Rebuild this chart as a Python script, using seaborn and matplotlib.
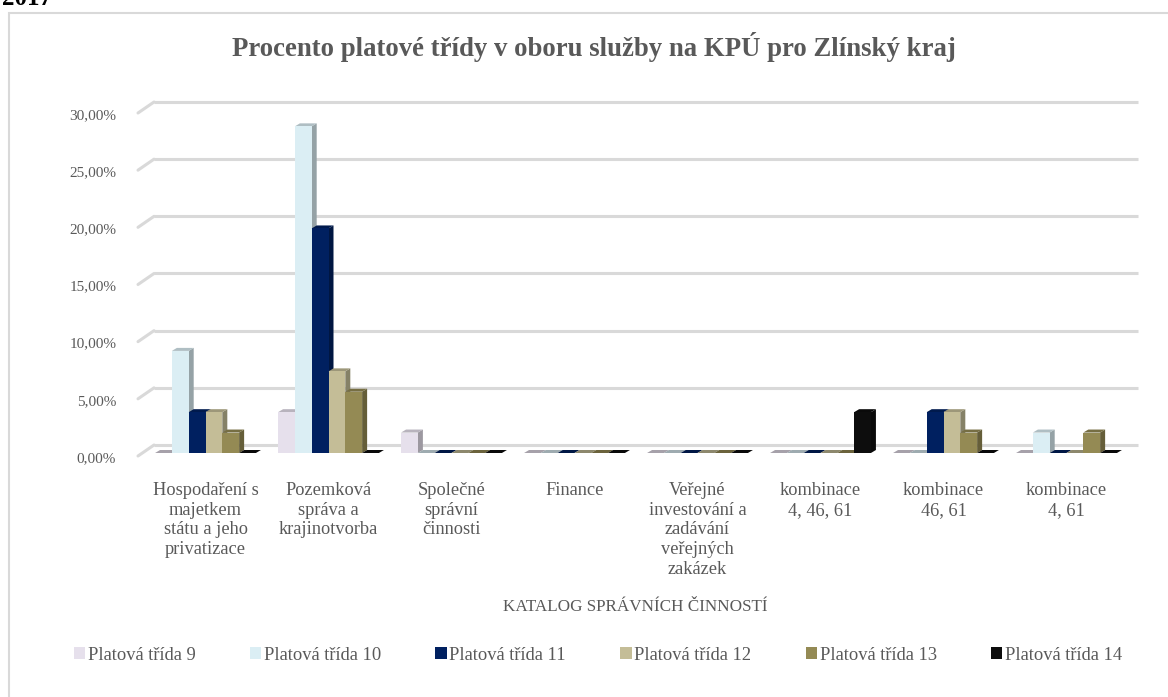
import numpy as np
import pandas as pd
import matplotlib
matplotlib.use("Agg")
import matplotlib.pyplot as plt
from matplotlib.patches import Polygon, Patch, Rectangle
from matplotlib.ticker import FuncFormatter
import matplotlib.transforms as mtransforms
import seaborn as sns

# --- data (percent of employees per salary class) ---
categories = [
    "Hospodaření s\nmajetkem\nstátu a jeho\nprivatizace",
    "Pozemková\nspráva a\nkrajinotvorba",
    "Společné\nsprávní\nčinnosti",
    "Finance",
    "Veřejné\ninvestování a\nzadávání\nveřejných\nzakázek",
    "kombinace\n4, 46, 61",
    "kombinace\n46, 61",
    "kombinace\n4, 61",
]
classes = ["Platová třída 9", "Platová třída 10", "Platová třída 11",
           "Platová třída 12", "Platová třída 13", "Platová třída 14"]
pt9 = [0.00, 3.57, 1.79, 0.00, 0.00, 0.00, 0.00, 0.00]
pt10 = [8.93, 28.57, 0.00, 0.00, 0.00, 0.00, 0.00, 1.79]
pt11 = [3.57, 19.64, 0.00, 0.00, 0.00, 0.00, 3.57, 0.00]
pt12 = [3.57, 7.14, 0.00, 0.00, 0.00, 0.00, 3.57, 0.00]
pt13 = [1.79, 5.36, 0.00, 0.00, 0.00, 0.00, 1.79, 1.79]
pt14 = [0.00, 0.00, 0.00, 0.00, 0.00, 3.57, 0.00, 0.00]
yticks = [0, 5, 10, 15, 20, 25, 30]

colors = ["#E6E0EC", "#DBEEF4", "#002060", "#C4BD97", "#948A54", "#0D0D0D"]

series = [pt9, pt10, pt11, pt12, pt13, pt14]
df = pd.DataFrame({
    "kategorie": [c for s in series for c in categories],
    "trida": [cl for cl, s in zip(classes, series) for _ in s],
    "podil": [v for s in series for v in s],
})

# --- style ---
sns.set_style("white")
plt.rcParams["font.family"] = ["Liberation Serif", "DejaVu Serif"]
TXT = "#595959"

W, H, DPI = 11.68, 6.97, 100
fig = plt.figure(figsize=(W, H), dpi=DPI)
ax_l, ax_b = 144 / 1168, 1 - 453 / 697
ax_w, ax_h = 984 / 1168, 343 / 697
ax = fig.add_axes([ax_l, ax_b, ax_w, ax_h])

sns.barplot(data=df, x="kategorie", y="podil", hue="trida",
            order=categories, hue_order=classes, palette=colors,
            width=0.82, saturation=1, gap=0, legend=False,
            edgecolor="none", linewidth=0, ax=ax)

ax.set_xlim(-0.5, len(categories) - 0.5)
ax.set_ylim(0, 30)
for s in ax.spines.values():
    s.set_visible(False)
ax.grid(False)


def px(dx, dy):
    """Offset transform in screen pixels."""
    return mtransforms.ScaledTranslation(dx / DPI, dy / DPI, fig.dpi_scale_trans)


# back wall gridlines with short perspective stubs on the left
inv = fig.transFigure.inverted()
for v in yticks:
    ax.plot([-0.5, len(categories) - 0.5], [v, v], color="#D9D9D9", lw=2.2,
            transform=ax.transData + px(10, 8), zorder=1, clip_on=False,
            solid_capstyle="butt")
    p0 = ax.transData.transform((-0.5, v))
    a = inv.transform((p0[0] - 6, p0[1] - 3))
    b = inv.transform((p0[0] + 10, p0[1] + 8))
    fig.add_artist(plt.Line2D([a[0], b[0]], [a[1], b[1]], color="#D9D9D9",
                              lw=2.2, zorder=1))

# 3D faces for each bar, derived from the seaborn bar geometry
px_per_x = ax_w * W * DPI / len(categories)
px_per_y = ax_h * H * DPI / 30
ddx, ddy = 5 / px_per_x, 3 / px_per_y
bars = sorted(ax.patches, key=lambda p: p.get_x())


def shade(c, f):
    r, g, b, a = matplotlib.colors.to_rgba(c)
    return (r * f, g * f, b * f, 1)


for k, bar in enumerate(bars):
    x0, w, h = bar.get_x(), bar.get_width(), bar.get_height()
    fc = bar.get_facecolor()
    base = 10 + 3 * k
    side = Polygon([(x0 + w, 0), (x0 + w, h), (x0 + w + ddx, h + ddy),
                    (x0 + w + ddx, ddy)], closed=True, fc=shade(fc, 0.68),
                   ec="none", zorder=base, clip_on=False)
    top = Polygon([(x0, h), (x0 + w, h), (x0 + w + ddx, h + ddy),
                   (x0 + ddx, h + ddy)], closed=True,
                  fc=shade(fc, 0.8 if h > 0 else 0.72), ec="none",
                  zorder=base + 1, clip_on=False)
    ax.add_patch(side)
    ax.add_patch(top)
    bar.set_zorder(base + 2)

# axes labels and ticks
ax.set_yticks(yticks)
ax.yaxis.set_major_formatter(FuncFormatter(lambda v, _: f"{v:.2f}".replace(".", ",") + "%"))
ax.tick_params(axis="y", length=0, pad=20, labelsize=11, labelcolor=TXT)
for lab in ax.get_yticklabels():
    lab.set_transform(lab.get_transform() + px(0, -4))
ax.tick_params(axis="x", length=0, pad=21, labelsize=13.2, labelcolor=TXT)
ax.set_xlabel("")
ax.set_ylabel("")
fig.text(635 / 1168, 1 - 607 / 697, "KATALOG SPRÁVNÍCH ČINNOSTÍ",
         ha="center", va="center", fontsize=12.3, color=TXT)

# title and frame
fig.text(594 / 1168, 1 - 47 / 697, "Procento platové třídy v oboru služby na KPÚ pro Zlínský kraj",
         ha="center", va="center", fontsize=19.3, fontweight="bold", color=TXT)
fig.text(2 / 1168, 1 - 5 / 697, "2017", ha="left", va="baseline",
         fontsize=18, fontweight="bold", color="black")
fig.add_artist(Rectangle((9 / 1168, -0.01), 1.02, 1 - 13 / 697 + 0.01,
                         transform=fig.transFigure, fill=False,
                         ec="#D9D9D9", lw=1.5))

handles = [Patch(fc=c, ec="none") for c in colors]
fig.legend(handles, classes, loc="center", bbox_to_anchor=(598 / 1168, 1 - 655 / 697),
           ncol=6, frameon=False, fontsize=13.3, labelcolor=TXT,
           handlelength=0.6, handleheight=0.6, handletextpad=0.15,
           columnspacing=2.95)

fig.savefig("out.png", dpi=DPI)
